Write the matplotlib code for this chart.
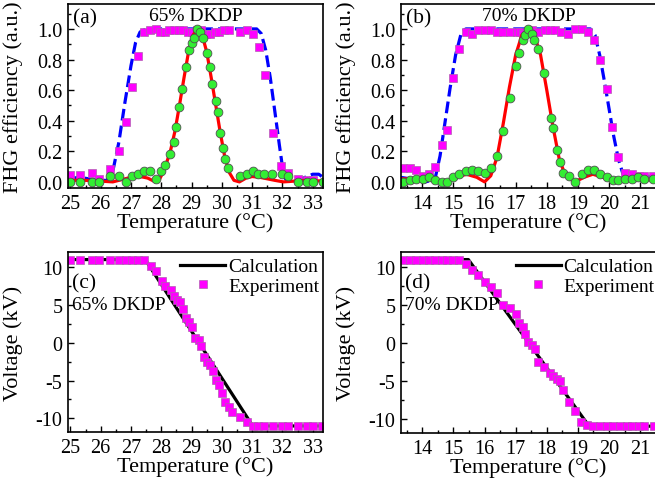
import numpy as np
import matplotlib
matplotlib.use("Agg")
import matplotlib.pyplot as plt
from matplotlib.ticker import MultipleLocator

plt.rcParams['font.family'] = ['Liberation Serif', 'DejaVu Serif']
plt.rcParams['axes.unicode_minus'] = False

# ---- (a) 65% DKDP : FHG efficiency vs temperature ----
sq_x_a = [25.0, 25.33, 25.72, 25.94, 26.3, 26.62, 26.82, 27.02, 27.23, 27.43, 27.62, 27.81,
          27.97, 28.12, 28.27, 28.42, 28.57, 28.72, 28.87, 29.02, 29.17, 29.32, 29.47,
          29.62, 29.77, 29.92, 30.07, 30.22, 30.6, 30.82, 31.02, 31.22, 31.42, 31.68,
          31.94, 32.18, 32.5, 32.8, 33.0]
sq_y_a = [0.045, 0.045, 0.06, 0.02, 0.085, 0.2, 0.39, 0.62, 0.82, 0.98, 0.99, 1.0,
          0.98, 0.98, 0.99, 0.99, 0.99, 0.99, 0.98, 0.98, 0.99, 0.99, 0.97,
          0.97, 0.98, 0.98, 0.99, 0.99, 0.98, 0.99, 0.97, 0.88, 0.70, 0.32,
          0.107, 0.06, 0.02, 0.01, 0.015]

dot_x_a = [25.0, 25.33, 25.72, 25.94, 26.3, 26.62, 26.82, 27.02, 27.23, 27.42, 27.62, 27.81,
           28.0, 28.11, 28.3, 28.42, 28.5, 28.6, 28.7, 28.8, 28.9, 29.0, 29.08, 29.19,
           29.28, 29.39, 29.5, 29.6, 29.69, 29.8, 29.86, 29.95, 30.04, 30.11, 30.21,
           30.6, 30.82, 31.02, 31.21, 31.4, 31.67, 32.0, 32.2, 32.5, 32.8, 33.0, 33.33]
dot_y_a = [0.0, 0.0, 0.0, 0.0, 0.04, 0.04, 0.0, 0.04, 0.05, 0.07, 0.07, 0.02,
           0.07, 0.11, 0.18, 0.26, 0.36, 0.49, 0.61, 0.75, 0.86, 0.91, 0.94, 1.0,
           0.98, 0.94, 0.84, 0.75, 0.64, 0.53, 0.46, 0.32, 0.22, 0.15, 0.09,
           0.04, 0.05, 0.07, 0.05, 0.05, 0.05, 0.05, 0.04, 0.0, 0.0, 0.0, 0.0]

fit_x_a = [24.92, 25.5, 26.0, 26.4, 26.7, 27.0, 27.3, 27.55, 27.8, 27.95, 28.1, 28.3, 28.45,
           28.6, 28.75, 28.9, 29.05, 29.2, 29.35, 29.5, 29.65, 29.8, 29.95, 30.1, 30.25,
           30.4, 30.58, 30.8, 31.0, 31.25, 31.5, 31.75, 32.03, 32.4, 32.8, 33.34]
fit_y_a = [0.01, 0.01, 0.005, 0.0, 0.015, 0.03, 0.035, 0.025, 0.0, 0.02, 0.08, 0.2, 0.33,
           0.5, 0.68, 0.85, 0.96, 1.0, 0.96, 0.85, 0.68, 0.5, 0.32, 0.16, 0.06,
           0.01, 0.0, 0.025, 0.035, 0.03, 0.02, 0.01, 0.0, 0.005, 0.01, 0.005]

flat_x_a = [24.92, 25.3, 25.9, 26.2, 26.4, 26.6, 26.8, 27.0, 27.15, 27.3, 27.5, 31.15, 31.3,
            31.45, 31.6, 31.75, 31.9, 32.0, 32.1, 32.25, 32.5, 32.75, 33.0, 33.2, 33.34]
flat_y_a = [0.02, 0.03, 0.01, 0.01, 0.07, 0.26, 0.52, 0.76, 0.91, 0.98, 1.0, 1.0, 0.97,
            0.86, 0.68, 0.46, 0.24, 0.1, 0.02, 0.0, 0.01, 0.03, 0.05, 0.05, 0.03]

# ---- (b) 70% DKDP ----
sq_x_b = [13.39, 13.6, 13.79, 14.01, 14.21, 14.41, 14.62, 14.8, 15.0, 15.19, 15.39, 15.59,
          15.8, 16.01, 16.2, 16.41, 16.6, 16.82, 17.03, 17.14, 17.24, 17.52, 17.73, 17.94,
          18.1, 18.27, 18.45, 18.69, 18.91, 19.12, 19.34, 19.53, 19.71, 19.93, 20.09,
          20.3, 20.52, 20.73, 20.95, 21.14, 21.41]
sq_y_b = [0.09, 0.09, 0.08, 0.04, 0.05, 0.10, 0.24, 0.34, 0.68, 0.87, 0.98, 0.97,
          0.99, 0.99, 0.99, 0.98, 0.98, 0.98, 0.98, 0.98, 0.97, 0.99, 0.98, 0.99,
          0.99, 0.99, 0.98, 0.97, 1.0, 1.0, 0.98, 0.93, 0.80, 0.61, 0.36,
          0.16, 0.06, 0.05, 0.04, 0.04, 0.04]

dot_x_b = [13.39, 13.6, 13.79, 14.01, 14.21, 14.41, 14.62, 14.8, 15.0, 15.19, 15.39, 15.59,
           15.8, 16.01, 16.2, 16.41, 16.6, 16.82, 17.01, 17.12, 17.22, 17.3, 17.41, 17.52,
           17.6, 17.73, 17.91, 18.13, 18.21, 18.32, 18.41, 18.51, 18.73, 18.91, 19.12,
           19.34, 19.53, 19.71, 19.93, 20.14, 20.3, 20.52, 20.73, 20.92, 21.14, 21.41]
dot_y_b = [0.0, 0.01, 0.02, 0.02, 0.03, 0.01, 0.0, 0.0, 0.03, 0.05, 0.07, 0.075,
           0.07, 0.06, 0.09, 0.17, 0.33, 0.55, 0.76, 0.84, 0.93, 0.96, 1.0, 0.97,
           0.93, 0.87, 0.71, 0.42, 0.35, 0.21, 0.13, 0.06, 0.04, 0.0, 0.05,
           0.08, 0.08, 0.05, 0.03, 0.01, 0.01, 0.02, 0.02, 0.03, 0.02, 0.02]

fit_x_b = [13.3, 13.8, 14.3, 14.7, 15.1, 15.42, 15.75, 16.0, 16.2, 16.4, 16.6, 16.8, 17.0,
           17.2, 17.42, 17.6, 17.8, 18.0, 18.2, 18.4, 18.6, 18.9, 19.2, 19.48, 19.8,
           20.1, 20.5, 20.9, 21.51]
fit_y_b = [0.02, 0.02, 0.01, 0.0, 0.03, 0.05, 0.03, 0.0, 0.04, 0.16, 0.38, 0.62, 0.83,
           0.96, 1.0, 0.96, 0.83, 0.6, 0.36, 0.15, 0.04, 0.0, 0.03, 0.05, 0.03,
           0.01, 0.01, 0.02, 0.01]

flat_x_b = [13.3, 13.6, 13.9, 14.1, 14.3, 14.42, 14.57, 14.73, 14.89, 15.07, 15.26, 15.4,
            19.4, 19.55, 19.7, 19.85, 20.0, 20.15, 20.3, 20.45, 20.6, 20.8, 21.1, 21.51]
flat_y_b = [0.03, 0.02, 0.01, 0.0, 0.01, 0.03, 0.17, 0.39, 0.61, 0.83, 0.98, 1.0,
            1.0, 0.96, 0.83, 0.66, 0.48, 0.3, 0.15, 0.05, 0.01, 0.02, 0.04, 0.03]

# ---- (c) 65% DKDP : voltage vs temperature ----
exp_x_c = [25.0, 25.33, 25.72, 25.94, 26.32, 26.62, 26.82, 27.02, 27.23, 27.43,
           27.65, 27.84, 28.04, 28.12, 28.31, 28.42, 28.51, 28.62, 28.73, 28.82, 28.92,
           29.0, 29.12, 29.23, 29.3, 29.41, 29.5, 29.6, 29.71, 29.8, 29.91, 30.02,
           30.11, 30.22, 30.32, 30.61, 30.82, 31.02, 31.2, 31.4, 31.7, 32.0, 32.18,
           32.5, 32.8, 33.02, 33.32]
exp_y_c = [11, 11, 11, 11, 11, 11, 11, 11, 11, 11,
           10.2, 9.5, 8.15, 7.45, 7.0, 6.15, 5.65, 5.45, 4.4, 3.25, 2.7,
           2.05, 0.6, 0.3, -0.45, -1.9, -2.6, -3.0, -3.8, -4.9, -5.6, -6.6,
           -7.8, -8.55, -9.1, -9.8, -10.5, -11, -11, -11, -11, -11, -11,
           -11, -11, -11, -11]
calc_x_c = [24.92, 27.47, 31.02, 33.34]
calc_y_c = [11, 11, -11, -11]

# ---- (d) 70% DKDP ----
exp_x_d = [13.39, 13.6, 13.79, 14.01, 14.21, 14.41, 14.62, 14.8, 15.0, 15.19,
           15.39, 15.59, 15.8, 16.01, 16.2, 16.41, 16.6, 16.82, 17.01, 17.12, 17.22,
           17.3, 17.41, 17.52, 17.62, 17.73, 17.91, 18.1, 18.21, 18.34, 18.43, 18.51,
           18.73, 18.91, 19.1, 19.3, 19.5, 19.72, 19.93, 20.14, 20.36, 20.57, 20.75,
           20.95, 21.13, 21.43]
exp_y_d = [11, 11, 11, 11, 11, 11, 11, 11, 11, 11,
           10.4, 9.6, 9.0, 8.0, 7.35, 6.6, 5.0, 4.6, 3.8, 2.6, 2.05,
           1.15, 0.15, -0.3, -0.8, -2.5, -3.15, -4.0, -4.35, -4.8, -5.0, -6.25,
           -7.8, -9.0, -10.4, -10.85, -11, -11, -11, -11, -11, -11, -11,
           -11, -11, -11]
calc_x_d = [13.315, 15.48, 19.36, 21.51]
calc_y_d = [11, 11, -11, -11]

MAG = '#ff00ff'
GRN = '#33ee33'

fig = plt.figure(figsize=(6.55, 4.85), dpi=100)
W = 255 / 655
ax_a = fig.add_axes([68 / 655, 1 - 189 / 485, W, 184 / 485])
ax_b = fig.add_axes([401 / 655, 1 - 189 / 485, W, 184 / 485])
ax_c = fig.add_axes([68 / 655, 1 - 433 / 485, W, 180 / 485])
ax_d = fig.add_axes([401 / 655, 1 - 434 / 485, W, 181 / 485])


def style(ax):
    ax.tick_params(which='both', direction='in', top=False, right=False, labelsize=14.5)
    ax.tick_params(which='major', length=4, width=1.0, pad=4)
    ax.tick_params(which='minor', length=2, width=1.0)
    for sp in ax.spines.values():
        sp.set_linewidth(1.2)
    ax.xaxis.set_major_locator(MultipleLocator(1))
    ax.xaxis.set_minor_locator(MultipleLocator(0.5))
    ax.set_xlabel('Temperature (°C)', fontsize=16, labelpad=0)


for ax, fx, fy, sx, sy, dx, dy, rx, ry, xl, tag, name in [
        (ax_a, flat_x_a, flat_y_a, sq_x_a, sq_y_a, dot_x_a, dot_y_a, fit_x_a, fit_y_a,
         (24.92, 33.34), '(a)', '65% DKDP'),
        (ax_b, flat_x_b, flat_y_b, sq_x_b, sq_y_b, dot_x_b, dot_y_b, fit_x_b, fit_y_b,
         (13.315, 21.51), '(b)', '70% DKDP')]:
    ax.plot(fx, fy, '--', color='#0000ff', lw=2.3)
    ax.plot(sx, sy, 's', color=MAG, ms=5.4, mec='#b060b0', mew=0.5)
    ax.plot(rx, ry, '-', color='#ff0000', lw=2.3)
    ax.plot(dx, dy, 'o', color=GRN, ms=6.3, mec='#505050', mew=0.6)
    ax.set_xlim(*xl)
    ax.set_ylim(-0.04, 1.163)
    ax.yaxis.set_major_locator(MultipleLocator(0.2))
    ax.yaxis.set_minor_locator(MultipleLocator(0.1))
    ax.yaxis.set_major_formatter(plt.FormatStrFormatter('%.1f'))
    style(ax)
    ax.set_ylabel('FHG efficiency (a.u.)', fontsize=16)
    ax.yaxis.set_label_coords(-0.178, 0.5)
    ax.text(0.02, 0.925, tag, transform=ax.transAxes, fontsize=15.5, va='center')
    ax.text(0.5, 0.94, name, transform=ax.transAxes, fontsize=14, ha='center', va='center')

for ax, cx, cy, ex, ey, xl, yl, tag, name, lx in [
        (ax_c, calc_x_c, calc_y_c, exp_x_c, exp_y_c, (24.92, 33.34), (-11.8, 12.0), '(c)', '65% DKDP', 1.008),
        (ax_d, calc_x_d, calc_y_d, exp_x_d, exp_y_d, (13.315, 21.51), (-11.9, 12.0), '(d)', '70% DKDP', 1.018)]:
    ax.plot(cx, cy, '-', color='black', lw=2.3, label='Calculation')
    ax.plot(ex, ey, 's', color=MAG, ms=5.4, mec='#b060b0', mew=0.5, label='Experiment')
    ax.set_xlim(*xl)
    ax.set_ylim(*yl)
    ax.yaxis.set_major_locator(MultipleLocator(5))
    ax.yaxis.set_minor_locator(MultipleLocator(2.5))
    style(ax)
    ax.set_ylabel('Voltage (kV)', fontsize=16)
    ax.yaxis.set_label_coords(-0.178, 0.5)
    ax.text(0.016, 0.83, tag, transform=ax.transAxes, fontsize=15.5, va='center')
    ax.text(0.016, 0.71, name, transform=ax.transAxes, fontsize=14, va='center')
    ax.legend(loc='upper right', bbox_to_anchor=(lx, 1.0), frameon=False, fontsize=14,
              handlelength=2.3, handletextpad=0.15, labelspacing=0.1, borderpad=0.2,
              borderaxespad=0.1)

fig.savefig('out.png', dpi=100)
